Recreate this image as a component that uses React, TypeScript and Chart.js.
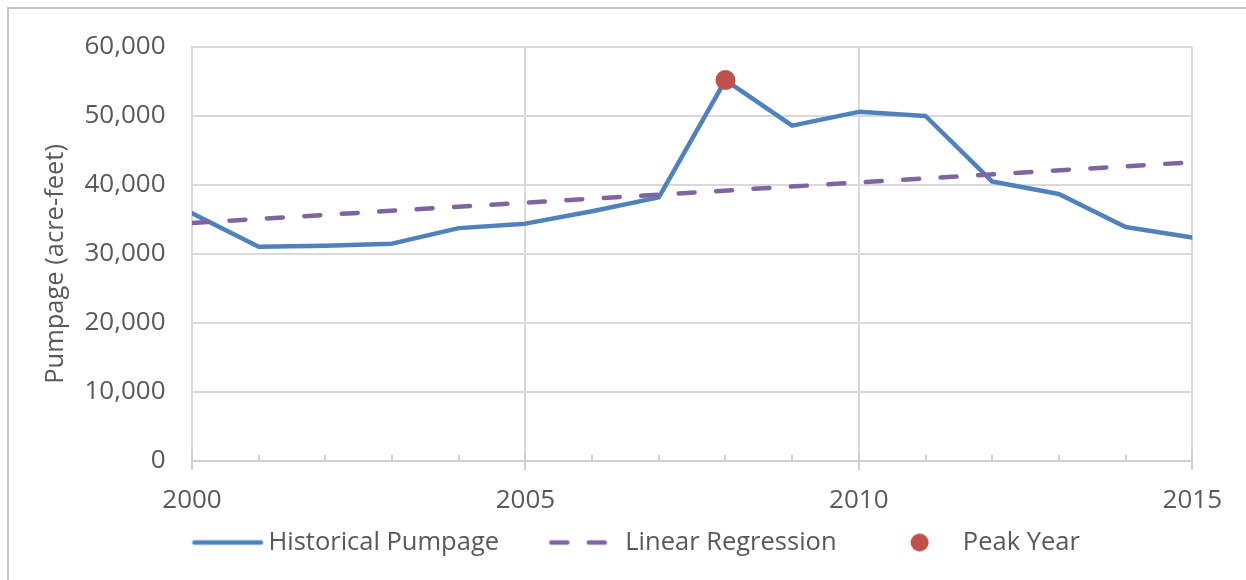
import React, { useEffect, useRef } from "react";
import { Chart, registerables } from "chart.js";

Chart.register(...registerables);

// ---- data ----
const years = [2000, 2001, 2002, 2003, 2004, 2005, 2006, 2007, 2008, 2009, 2010, 2011, 2012, 2013, 2014, 2015];
const historicalPumpage = [35900, 31050, 31200, 31500, 33750, 34400, 36200, 38200, 55200, 48600, 50600, 50000, 40500, 38700, 33900, 32400];
const regressionYears = [2000, 2015];
const regressionValues = [34500, 43300];
const peakYears = [2008];
const peakValues = [55200];
const legendLabels = ["Historical Pumpage", "Linear Regression", "Peak Year"];
const yAxisTitle = "Pumpage (acre-feet)";
const majorYearStep = 5;

const BLUE = "#4F81BD";
const PURPLE = "#8064A2";
const RED = "#C0504D";
const TEXT = "#595959";
const GRID = "#D9D9D9";
const AXIS = "#D0D0D0";
const FONT = "'Open Sans', 'Noto Sans', sans-serif";
const DASH = [16, 21.5];
const LINE_W = 4.5;

// legend geometry
const LEGEND_FONT = 25.5;
const LEGEND_PAD = 13.25;
const SAMPLE_LEN = 71; // visible length of the sample line
const SAMPLE_GAP = 50 - LEGEND_PAD; // extra spacing placed before each sample
const BOX_W = SAMPLE_GAP + 63.5;
const CANVAS_W = 120;
const CANVAS_LEFT = BOX_W / 2 - CANVAS_W / 2; // canvas left, relative to item start

function makeSample(kind: string): HTMLCanvasElement {
  const c = document.createElement("canvas");
  c.width = CANVAS_W;
  c.height = 22;
  const g = c.getContext("2d")!;
  const start = SAMPLE_GAP - CANVAS_LEFT; // sample start in canvas coords
  if (kind === "circle") {
    g.fillStyle = RED;
    g.beginPath();
    g.arc(start + 33, 11, 9, 0, Math.PI * 2);
    g.fill();
  } else {
    g.strokeStyle = kind === "solid" ? BLUE : PURPLE;
    g.lineWidth = LINE_W;
    g.lineCap = "round";
    if (kind === "dash") g.setLineDash(DASH);
    g.beginPath();
    g.moveTo(start + LINE_W / 2, 11);
    g.lineTo(kind === "dash" ? CANVAS_W : start + SAMPLE_LEN - LINE_W / 2, 11);
    g.stroke();
  }
  return c;
}

const yearTicksPlugin = {
  id: "yearTicks",
  beforeDatasetsDraw(chart: any) {
    const xs = chart.scales.x;
    const bottom = chart.chartArea.bottom;
    const ctx = chart.ctx;
    ctx.save();
    ctx.strokeStyle = AXIS;
    ctx.lineWidth = 2;
    for (const yr of years) {
      const px = Math.round(xs.getPixelForValue(yr));
      const major = yr % majorYearStep === 0;
      ctx.beginPath();
      ctx.moveTo(px, major ? bottom + 9 : bottom);
      ctx.lineTo(px, bottom - (major ? 8 : 6));
      ctx.stroke();
    }
    ctx.restore();
  },
};

export default function App() {
  const ref = useRef<HTMLCanvasElement>(null);

  useEffect(() => {
    const samples = [makeSample("solid"), makeSample("dash"), makeSample("circle")];
    const chart = new Chart(ref.current!, {
      type: "line",
      data: {
        datasets: [
          {
            label: legendLabels[0],
            data: years.map((y, i) => ({ x: y, y: historicalPumpage[i] })),
            borderColor: BLUE,
            borderWidth: LINE_W,
            pointRadius: 0,
            tension: 0,
            borderJoinStyle: "round",
            borderCapStyle: "round",
            order: 2,
            xAxisID: "x",
            yAxisID: "y",
          },
          {
            label: legendLabels[1],
            data: regressionYears.map((y, i) => ({ x: y, y: regressionValues[i] })),
            borderColor: PURPLE,
            borderWidth: LINE_W,
            borderDash: DASH,
            borderCapStyle: "round",
            pointRadius: 0,
            order: 1,
            xAxisID: "x",
            yAxisID: "y",
          },
          {
            label: legendLabels[2],
            data: peakYears.map((y, i) => ({ x: y, y: peakValues[i] })),
            showLine: false,
            pointRadius: 10,
            pointBackgroundColor: RED,
            pointBorderWidth: 0,
            borderColor: RED,
            order: 0,
            xAxisID: "x",
            yAxisID: "y",
          },
        ],
      } as any,
      options: {
        responsive: false,
        maintainAspectRatio: false,
        animation: false,
        layout: { padding: { left: 40, right: 50.75, top: 47, bottom: 14.75 } },
        plugins: {
          tooltip: { enabled: false },
          legend: {
            position: "bottom",
            labels: {
              usePointStyle: true,
              pointStyleWidth: BOX_W,
              padding: LEGEND_PAD,
              color: TEXT,
              font: { family: FONT, size: LEGEND_FONT },
              generateLabels: () =>
                legendLabels.map((text, i) => ({
                  text,
                  pointStyle: samples[i],
                  fillStyle: "rgba(0,0,0,0)",
                  strokeStyle: "rgba(0,0,0,0)",
                  lineWidth: 0,
                  hidden: false,
                  datasetIndex: i,
                  fontColor: TEXT,
                })),
            },
          },
        },
        scales: {
          x: {
            type: "linear",
            position: "bottom",
            min: 2000,
            max: 2015,
            afterFit: (s: any) => {
              s.height = 55.5;
            },
            ticks: {
              stepSize: 1,
              maxTicksLimit: 30,
              autoSkip: false,
              maxRotation: 0,
              padding: 24,
              color: TEXT,
              font: { family: FONT, size: 26 },
              callback: (v: any) => (Number(v) % majorYearStep === 0 ? String(v) : ""),
            },
            grid: {
              color: (c: any) => (c.tick && c.tick.value % majorYearStep === 0 ? GRID : "rgba(0,0,0,0)"),
              lineWidth: 2,
              drawTicks: false,
            },
            border: { display: true, color: AXIS, width: 2 },
          },
          y: {
            type: "linear",
            position: "left",
            min: 0,
            max: 60000,
            afterFit: (s: any) => {
              s.width = 152;
            },
            ticks: {
              stepSize: 10000,
              padding: 26.5,
              color: TEXT,
              font: { family: FONT, size: 26 },
              callback: (v: any) => Number(v).toLocaleString("en-US"),
            },
            grid: { color: GRID, lineWidth: 2, drawTicks: false },
            border: { display: true, color: GRID, width: 2 },
            title: {
              display: true,
              text: yAxisTitle + "   ",
              color: TEXT,
              font: { family: FONT, size: 25.5 },
              padding: 0,
            },
          },
        },
      } as any,
      plugins: [yearTicksPlugin],
    });
    return () => chart.destroy();
  }, []);

  return (
    <div style={{ position: "fixed", left: 0, top: 0, width: 1246, height: 580, overflow: "hidden", background: "#fff" }}>
      <div
        style={{
          position: "absolute",
          left: 7,
          top: 7,
          width: 1400,
          height: 800,
          border: "2px solid #C6C6C6",
        }}
      />
      <canvas ref={ref} width={1246} height={580} style={{ position: "absolute", left: 0, top: 0, width: 1246, height: 580 }} />
    </div>
  );
}
